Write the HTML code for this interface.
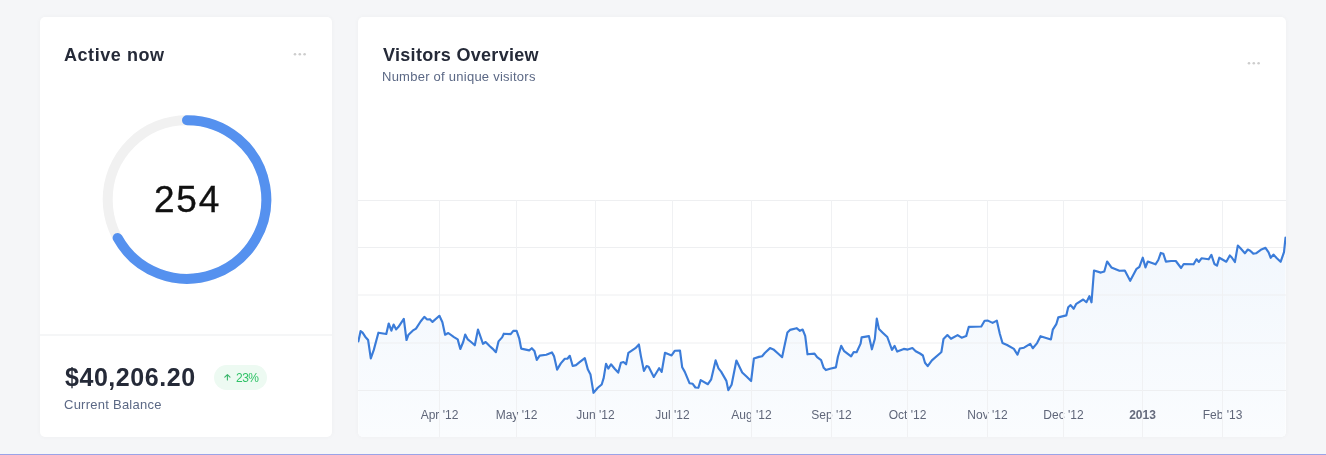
<!DOCTYPE html>
<html><head><meta charset="utf-8">
<style>
html,body{margin:0;padding:0;}
body{width:1326px;height:455px;overflow:hidden;background:#f5f6f8;position:relative;font-family:"Liberation Sans",sans-serif;-webkit-font-smoothing:antialiased;}
.card{position:absolute;background:#fff;border-radius:5px;box-shadow:0 0 5px rgba(40,50,70,0.035);}
#c1{left:40px;top:17px;width:292px;height:420px;}
#c2{left:358px;top:17px;width:928px;height:420px;}
.t{position:absolute;white-space:nowrap;line-height:1;will-change:transform;}
.h{font-weight:bold;font-size:18px;color:#252a38;}
.sub{font-size:13px;color:#5b6885;}
.bottombar{position:absolute;left:0;top:454px;width:1326px;height:1px;background:#9aa3e8;}
svg{position:absolute;left:0;top:0;will-change:transform;}
</style></head>
<body>
<div class="card" id="c1"></div>
<div class="card" id="c2"></div>
<svg width="1326" height="455">
<defs>
<linearGradient id="ag" x1="0" y1="237" x2="0" y2="437" gradientUnits="userSpaceOnUse">
<stop offset="0" stop-color="#f2f7fd"/>
<stop offset="1" stop-color="#fafcfe"/>
</linearGradient>
<clipPath id="cc"><rect x="358" y="17" width="928" height="420" rx="5"/></clipPath>
</defs>
<rect x="40" y="334" width="292" height="2" fill="#f5f6f7"/>
<circle cx="187" cy="199.5" r="79.3" fill="none" stroke="#f1f1f1" stroke-width="10"/>
<path d="M187,120.2 A79.3,79.3 0 1 1 117.64,237.95" fill="none" stroke="#5591ef" stroke-width="10" stroke-linecap="round"/>
<text x="187.5" y="212" text-anchor="middle" font-size="37" letter-spacing="1.7" fill="#111" stroke="#111" stroke-width="0.35">254</text>
<g fill="#cdcdcd">
<circle cx="295" cy="54.2" r="1.3"/><circle cx="299.8" cy="54.2" r="1.3"/><circle cx="304.6" cy="54.2" r="1.3"/>
<circle cx="1249" cy="63.3" r="1.3"/><circle cx="1253.8" cy="63.3" r="1.3"/><circle cx="1258.6" cy="63.3" r="1.3"/>
</g>
<g clip-path="url(#cc)">
<path d="M358.4,341.3 L360.6,331.1 L362.6,332.7 L365.2,336.7 L368.1,340 L370.8,358.4 L373.8,349.9 L378.4,332.7 L386.3,334 L388.7,323.5 L391.4,330.7 L393.6,324.5 L396.2,329.4 L398.5,326.8 L403.8,318.9 L406.5,340 L408.5,334.7 L412.7,330.7 L416,328.7 L420.6,321.5 L424.3,316.9 L427.2,319.5 L429.9,319.2 L432.5,321.9 L439.4,315.8 L442.4,322.2 L445.1,334.7 L448.3,333 L454,337.2 L457.7,339.4 L460.3,349 L463.2,342 L465.2,334.5 L467.8,339.4 L471.1,342 L474.8,345.3 L478,329.5 L483,343.8 L485.6,342 L489.6,346 L492.5,348.6 L495.9,352.2 L498.5,341.4 L502.1,337.4 L503.8,333.7 L510.7,334.1 L513.3,330.8 L516.6,330.8 L519.3,338.7 L521.2,348.6 L529.2,350.4 L531.8,348.2 L534.4,350.9 L536.8,359.9 L539.7,355.6 L546.3,354.8 L551.9,352.4 L554,356.1 L557.1,369.6 L560.8,363.4 L564.8,358.7 L567.4,358.7 L569.8,355.8 L572.7,366 L576,365.1 L579,362.7 L584.8,358.1 L587.9,369.6 L590.5,374.6 L593.5,392.8 L597.8,387.8 L601.7,384.5 L603.7,377.9 L606,363.8 L608.3,368.6 L611,364.3 L614.9,369 L618.2,372.6 L620.9,362.7 L623.5,362 L626.1,364.3 L628.4,352.8 L635.4,348.2 L638.9,344.5 L640.9,356.1 L643.9,370.9 L646.6,366 L648.6,366.7 L653.8,377 L659.1,368.2 L661.7,371.9 L665,352.8 L671.6,355.4 L674.7,350.8 L680,350.6 L682.2,367.3 L684.8,371.9 L689.5,383.2 L692.7,383.8 L695.4,387.5 L698.4,387.8 L700.7,380.1 L707.9,384.2 L711.2,379.3 L715.6,360.4 L718.5,368.3 L721.1,371.6 L726.4,380.9 L728.3,390.1 L731.6,384.8 L736.4,360.5 L742.2,372.5 L746.5,376.5 L751.1,381 L753.9,358.5 L759,356.9 L762.1,356.2 L764.8,353 L770,348.1 L773.4,349.4 L778.6,354 L782.1,357.2 L784.1,347.7 L787.4,332.5 L790,329.9 L796.6,328.2 L799.9,330.8 L802.6,329.5 L805.2,335.8 L807.5,354.3 L814.5,353.6 L817.1,357.2 L821.1,360.2 L823.7,367.8 L825.9,370.1 L830,368.7 L835.9,367.4 L837.9,356.8 L841.2,345.9 L844.2,351.2 L851.1,356.4 L853.7,352 L856.6,352.2 L860.6,343.6 L861.6,337.4 L868.9,336.1 L871.9,349.3 L874.8,339 L876.8,318.6 L879,329.1 L882.7,332.7 L887.3,337 L892,349.8 L894.6,345.9 L897.2,351.6 L903.8,348.9 L907.8,349.6 L912.4,348 L915.7,351.2 L920,353.5 L922.9,355.5 L925,362.8 L927.7,366.1 L931.9,360.4 L939.8,353.5 L941.4,352 L943.5,339 L947.4,335.1 L951,338.8 L957.6,335.1 L961.6,337.7 L966.2,336.1 L968.8,326.9 L981.3,326.5 L984.6,320.8 L987.9,320.6 L992.6,322.9 L996.8,320.6 L999.8,333.7 L1002.5,343 L1007.1,345 L1013.9,348.9 L1017.5,354.7 L1019.8,348.5 L1024,347.7 L1030.2,343.8 L1032.8,348.2 L1037.1,343.1 L1040.5,336.2 L1050.9,339.5 L1052.8,329.7 L1056.3,324.2 L1058.3,317.4 L1066.3,315.4 L1068.2,307.2 L1070.6,305.1 L1073.7,308.8 L1076.3,303.8 L1083.2,299.5 L1086.4,302.2 L1089.4,296.2 L1091.5,302.3 L1094,270.5 L1100.9,272.6 L1104.3,271.5 L1107.1,261.5 L1111.4,267.4 L1119.4,270.8 L1124.8,270.5 L1130.2,280.8 L1136.3,269.2 L1139.4,266.9 L1142.8,257.7 L1145.5,267.4 L1147.8,261.5 L1155.5,264.3 L1158.3,260 L1160.8,252.9 L1163.3,253.7 L1165.9,261.6 L1171.2,261 L1175.8,261 L1181.1,268 L1183.7,264 L1193.6,264.3 L1196.5,259.3 L1198.9,261.9 L1201.5,258.3 L1208.7,259.3 L1211.4,254.8 L1214.4,264 L1217,265.6 L1219.3,257.7 L1226.3,261.7 L1229.8,255.5 L1231.8,257.5 L1234.9,262 L1237.8,245.6 L1240.5,248.3 L1244.9,253.3 L1247.8,249.5 L1250.2,250.7 L1253.3,253.6 L1256,253.3 L1260.8,249.8 L1265.5,247.8 L1268.6,252.4 L1270.7,257.8 L1273.4,254.6 L1277.1,258.5 L1280.6,261.8 L1284,252.2 L1285.5,237.7 L1285.5,437 L358.4,437 Z" fill="url(#ag)" stroke="none"/>
<g stroke="#eeeff1" stroke-width="1" fill="none"><line x1="358" y1="200.5" x2="1286" y2="200.5"/><line x1="358" y1="247.5" x2="1286" y2="247.5"/><line x1="358" y1="295" x2="1286" y2="295"/><line x1="358" y1="343" x2="1286" y2="343"/><line x1="358" y1="390.5" x2="1286" y2="390.5"/></g>
<g font-size="12" fill="#5f6679"><text x="439.5" y="419" text-anchor="middle">Apr '12</text><text x="516.5" y="419" text-anchor="middle">May '12</text><text x="595.5" y="419" text-anchor="middle">Jun '12</text><text x="672.5" y="419" text-anchor="middle">Jul '12</text><text x="751.5" y="419" text-anchor="middle">Aug '12</text><text x="831.5" y="419" text-anchor="middle">Sep '12</text><text x="907.5" y="419" text-anchor="middle">Oct '12</text><text x="987.5" y="419" text-anchor="middle">Nov '12</text><text x="1063.5" y="419" text-anchor="middle">Dec '12</text><text x="1142.5" y="419" text-anchor="middle" font-weight="bold" fill="#656b7d">2013</text><text x="1222.5" y="419" text-anchor="middle">Feb '13</text></g>
<g stroke="#f0f1f3" stroke-width="1" fill="none"><line x1="439.5" y1="200" x2="439.5" y2="437"/><line x1="516.5" y1="200" x2="516.5" y2="437"/><line x1="595.5" y1="200" x2="595.5" y2="437"/><line x1="672.5" y1="200" x2="672.5" y2="437"/><line x1="751.5" y1="200" x2="751.5" y2="437"/><line x1="831.5" y1="200" x2="831.5" y2="437"/><line x1="907.5" y1="200" x2="907.5" y2="437"/><line x1="987.5" y1="200" x2="987.5" y2="437"/><line x1="1063.5" y1="200" x2="1063.5" y2="437"/><line x1="1142.5" y1="200" x2="1142.5" y2="437"/><line x1="1222.5" y1="200" x2="1222.5" y2="437"/></g>
<path d="M358.4,341.3 L360.6,331.1 L362.6,332.7 L365.2,336.7 L368.1,340 L370.8,358.4 L373.8,349.9 L378.4,332.7 L386.3,334 L388.7,323.5 L391.4,330.7 L393.6,324.5 L396.2,329.4 L398.5,326.8 L403.8,318.9 L406.5,340 L408.5,334.7 L412.7,330.7 L416,328.7 L420.6,321.5 L424.3,316.9 L427.2,319.5 L429.9,319.2 L432.5,321.9 L439.4,315.8 L442.4,322.2 L445.1,334.7 L448.3,333 L454,337.2 L457.7,339.4 L460.3,349 L463.2,342 L465.2,334.5 L467.8,339.4 L471.1,342 L474.8,345.3 L478,329.5 L483,343.8 L485.6,342 L489.6,346 L492.5,348.6 L495.9,352.2 L498.5,341.4 L502.1,337.4 L503.8,333.7 L510.7,334.1 L513.3,330.8 L516.6,330.8 L519.3,338.7 L521.2,348.6 L529.2,350.4 L531.8,348.2 L534.4,350.9 L536.8,359.9 L539.7,355.6 L546.3,354.8 L551.9,352.4 L554,356.1 L557.1,369.6 L560.8,363.4 L564.8,358.7 L567.4,358.7 L569.8,355.8 L572.7,366 L576,365.1 L579,362.7 L584.8,358.1 L587.9,369.6 L590.5,374.6 L593.5,392.8 L597.8,387.8 L601.7,384.5 L603.7,377.9 L606,363.8 L608.3,368.6 L611,364.3 L614.9,369 L618.2,372.6 L620.9,362.7 L623.5,362 L626.1,364.3 L628.4,352.8 L635.4,348.2 L638.9,344.5 L640.9,356.1 L643.9,370.9 L646.6,366 L648.6,366.7 L653.8,377 L659.1,368.2 L661.7,371.9 L665,352.8 L671.6,355.4 L674.7,350.8 L680,350.6 L682.2,367.3 L684.8,371.9 L689.5,383.2 L692.7,383.8 L695.4,387.5 L698.4,387.8 L700.7,380.1 L707.9,384.2 L711.2,379.3 L715.6,360.4 L718.5,368.3 L721.1,371.6 L726.4,380.9 L728.3,390.1 L731.6,384.8 L736.4,360.5 L742.2,372.5 L746.5,376.5 L751.1,381 L753.9,358.5 L759,356.9 L762.1,356.2 L764.8,353 L770,348.1 L773.4,349.4 L778.6,354 L782.1,357.2 L784.1,347.7 L787.4,332.5 L790,329.9 L796.6,328.2 L799.9,330.8 L802.6,329.5 L805.2,335.8 L807.5,354.3 L814.5,353.6 L817.1,357.2 L821.1,360.2 L823.7,367.8 L825.9,370.1 L830,368.7 L835.9,367.4 L837.9,356.8 L841.2,345.9 L844.2,351.2 L851.1,356.4 L853.7,352 L856.6,352.2 L860.6,343.6 L861.6,337.4 L868.9,336.1 L871.9,349.3 L874.8,339 L876.8,318.6 L879,329.1 L882.7,332.7 L887.3,337 L892,349.8 L894.6,345.9 L897.2,351.6 L903.8,348.9 L907.8,349.6 L912.4,348 L915.7,351.2 L920,353.5 L922.9,355.5 L925,362.8 L927.7,366.1 L931.9,360.4 L939.8,353.5 L941.4,352 L943.5,339 L947.4,335.1 L951,338.8 L957.6,335.1 L961.6,337.7 L966.2,336.1 L968.8,326.9 L981.3,326.5 L984.6,320.8 L987.9,320.6 L992.6,322.9 L996.8,320.6 L999.8,333.7 L1002.5,343 L1007.1,345 L1013.9,348.9 L1017.5,354.7 L1019.8,348.5 L1024,347.7 L1030.2,343.8 L1032.8,348.2 L1037.1,343.1 L1040.5,336.2 L1050.9,339.5 L1052.8,329.7 L1056.3,324.2 L1058.3,317.4 L1066.3,315.4 L1068.2,307.2 L1070.6,305.1 L1073.7,308.8 L1076.3,303.8 L1083.2,299.5 L1086.4,302.2 L1089.4,296.2 L1091.5,302.3 L1094,270.5 L1100.9,272.6 L1104.3,271.5 L1107.1,261.5 L1111.4,267.4 L1119.4,270.8 L1124.8,270.5 L1130.2,280.8 L1136.3,269.2 L1139.4,266.9 L1142.8,257.7 L1145.5,267.4 L1147.8,261.5 L1155.5,264.3 L1158.3,260 L1160.8,252.9 L1163.3,253.7 L1165.9,261.6 L1171.2,261 L1175.8,261 L1181.1,268 L1183.7,264 L1193.6,264.3 L1196.5,259.3 L1198.9,261.9 L1201.5,258.3 L1208.7,259.3 L1211.4,254.8 L1214.4,264 L1217,265.6 L1219.3,257.7 L1226.3,261.7 L1229.8,255.5 L1231.8,257.5 L1234.9,262 L1237.8,245.6 L1240.5,248.3 L1244.9,253.3 L1247.8,249.5 L1250.2,250.7 L1253.3,253.6 L1256,253.3 L1260.8,249.8 L1265.5,247.8 L1268.6,252.4 L1270.7,257.8 L1273.4,254.6 L1277.1,258.5 L1280.6,261.8 L1284,252.2 L1285.5,237.7" fill="none" stroke="#3b7cd9" stroke-width="2.15" stroke-linejoin="round" stroke-linecap="round"/>
</g>
</svg>
<div class="t h" style="left:64px;top:46px;letter-spacing:0.55px;">Active now</div>
<div class="t h" style="left:383px;top:46px;letter-spacing:0.3px;">Visitors Overview</div>
<div class="t sub" style="left:382px;top:70px;letter-spacing:0.25px;">Number of unique visitors</div>
<div class="t" style="left:65px;top:365px;font-size:25px;letter-spacing:0.55px;font-weight:bold;color:#252a38;">$40,206.20</div>
<div class="t sub" style="left:64px;top:398px;letter-spacing:0.25px;">Current Balance</div>
<div class="t" style="left:214px;top:365px;width:53px;height:25px;border-radius:13px;background:#edfaf2;"></div>
<div class="t" style="left:235.5px;top:372px;font-size:12px;letter-spacing:-0.5px;color:#30c267;">23%</div>
<svg width="1326" height="455" style="position:absolute;left:0;top:0"><path d="M227.4,380 V374.6 M224.8,377.2 L227.4,374.6 L230,377.2" fill="none" stroke="#3ab56b" stroke-width="1.1" stroke-linecap="round" stroke-linejoin="round"/></svg>
<div class="bottombar"></div>
</body></html>
